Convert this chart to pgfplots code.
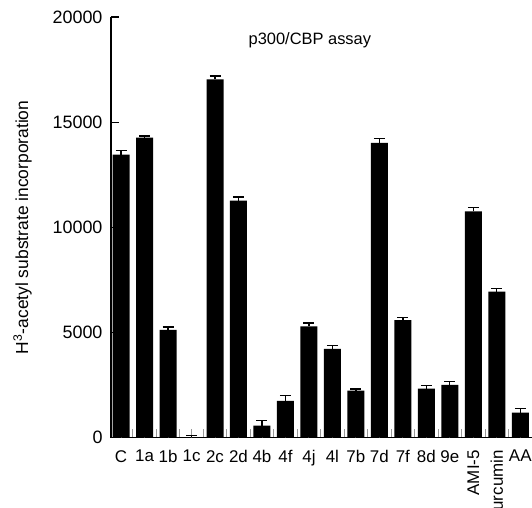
\documentclass[border=0pt]{standalone}
\usepackage{pgfplots}
\pgfplotsset{compat=1.18}
\usepackage{pgfplotstable}
\usepackage{fontspec}
\setmainfont{Liberation Sans}
\pgfplotstableread{
x y e
0 13460 180
1 14260 80
2 5130 130
3 30 80
4 17030 160
5 11270 175
6 570 240
7 1750 240
8 5290 160
9 4220 160
10 2240 80
11 14020 190
12 5590 130
13 2330 140
14 2510 160
15 10760 190
16 6950 130
17 1190 190
}\datatable
\begin{document}
\begin{tikzpicture}
\begin{axis}[
  scale only axis,
  width=421bp, height=420.7bp,
  xmin=-0.43, xmax=17.5,
  ymin=0, ymax=20000,
  axis x line*=bottom, axis y line*=left,
  axis line style={line width=1.3bp, black},
  tick align=inside,
  major tick length=8.5bp,
  xtick={0.5,1.5,...,17.5},
  xticklabels={},
  x tick style={draw=gray!80, line width=0.9bp},
  extra x ticks={0,...,17},
  extra x tick labels={C,1a,1b,1c,2c,2d,4b,4f,4j,4l,7b,7d,7f,8d,9e,\rotatebox{90}{AMI-5},\rotatebox{90}{curcumin},AA},
  extra x tick style={tick style={draw=none}, xticklabel style={yshift=-9bp, font=\fontsize{17}{20}\selectfont}},
  y tick style={black, line width=1.3bp},
  ytick={0,5000,10000,15000,20000},
  /pgf/number format/assume math mode=true,
  /pgf/number format/set thousands separator={},
  scaled y ticks=false,
  yticklabel style={xshift=-5bp, font=\fontsize{18}{21}\selectfont},
  ylabel={H\textsuperscript{3}-acetyl substrate incorporation},
  every axis y label/.style={at={(axis description cs:-0.21,0.5)}, rotate=90, anchor=center, font=\fontsize{17.5}{20}\selectfont},
  clip=false,
]
\addplot[ybar, bar width=17bp, fill=black, draw=none,
  error bars/.cd, y dir=plus, y explicit,
  error bar style={line width=1.3bp, black},
  error mark options={rotate=90, mark size=5.5bp, line width=1.3bp, black}]
  table[x=x, y=y, y error=e] {\datatable};
\node[font=\fontsize{16.5}{19}\selectfont, anchor=center] at (axis cs:8.04,18900) {p300/CBP assay};
\end{axis}
\pgfresetboundingbox
\useasboundingbox (-111bp,-70.3bp) rectangle (421bp,437.7bp);
\end{tikzpicture}
\end{document}
